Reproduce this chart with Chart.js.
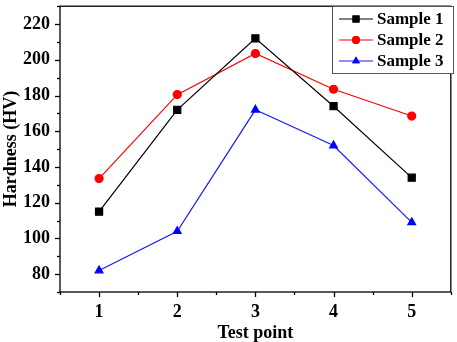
<!DOCTYPE html>
<html><head><meta charset="utf-8">
<script src="https://cdn.jsdelivr.net/npm/chart.js@4/dist/chart.umd.min.js"></script>
<style>html,body{margin:0;padding:0;background:#fff}#wrap{width:457px;height:342px}</style>
</head><body><div id="wrap"><canvas id="c" width="457" height="342"></canvas></div>
<script>
const testPoints = [1, 2, 3, 4, 5];
const sample1 = [115, 172, 212, 174, 134];
const sample2 = [133.5, 180.5, 203.5, 183.5, 168.5];
const sample3 = [82, 104, 172, 152, 109];
const yTickLabels = [80, 100, 120, 140, 160, 180, 200, 220];
const seriesNames = ['Sample 1', 'Sample 2', 'Sample 3'];

const FONT = "'Liberation Serif','Times New Roman',serif";
const toXY = arr => arr.map((v, i) => ({x: testPoints[i], y: v}));

const framePlugin = {
  id: 'frame',
  afterDraw(chart) {
    const {ctx, chartArea: a, scales} = chart;
    ctx.save();
    ctx.strokeStyle = '#000';
    ctx.lineWidth = 1.3;
    ctx.strokeRect(a.left, a.top, a.right - a.left, a.bottom - a.top);
    const xs = scales.x;
    for (let v = 0.5; v <= 5.5; v += 0.5) {
      const px = Math.round(xs.getPixelForValue(v)) + 0.5;
      const major = Number.isInteger(v);
      ctx.beginPath(); ctx.moveTo(px, a.bottom); ctx.lineTo(px, a.bottom + (major ? 5 : 3)); ctx.stroke();
    }
    const ys = scales.y;
    for (let v = 70; v <= 230; v += 10) {
      const py = Math.round(ys.getPixelForValue(v)) + 0.5;
      const major = yTickLabels.includes(v);
      ctx.beginPath(); ctx.moveTo(a.left, py); ctx.lineTo(a.left - (major ? 5 : 3), py); ctx.stroke();
    }
    // legend
    const lx = 332, ly = 6, lw = 121, lh = 67;
    ctx.fillStyle = '#fff';
    ctx.fillRect(lx, ly, lw, lh);
    ctx.strokeStyle = '#555';
    ctx.lineWidth = 1;
    ctx.strokeRect(lx + 0.5, ly + 0.5, lw, lh);
    const rows = [19, 40, 61];
    chart.data.datasets.forEach((ds, i) => {
      const y = rows[i];
      ctx.strokeStyle = ds.borderColor;
      ctx.lineWidth = 1;
      ctx.beginPath(); ctx.moveTo(339, y); ctx.lineTo(373, y); ctx.stroke();
      ctx.fillStyle = ds.pointBackgroundColor;
      Chart.helpers.drawPoint(ctx, {pointStyle: ds.pointStyle, radius: ds.pointRadius, rotation: 0, borderWidth: 0}, 356, y);
      ctx.fill();
      ctx.fillStyle = '#000';
      ctx.font = "bold 17px " + FONT;
      ctx.textBaseline = 'middle';
      ctx.textAlign = 'left';
      ctx.fillText(ds.label, 377, y + 1);
    });
    ctx.restore();
  }
};

const noPad = s => { s.paddingTop = 0; s.paddingBottom = 0; s.paddingLeft = 0; s.paddingRight = 0; };

new Chart(document.getElementById('c'), {
  type: 'line',
  data: {
    datasets: [
      {label: seriesNames[0], data: toXY(sample1), borderColor: '#000', pointBackgroundColor: '#000', pointBorderColor: '#000', pointStyle: 'rect', pointRadius: 5, borderWidth: 1.2},
      {label: seriesNames[1], data: toXY(sample2), borderColor: '#ff0000', pointBackgroundColor: '#ff0000', pointBorderColor: '#ff0000', pointStyle: 'circle', pointRadius: 4, borderWidth: 1.2},
      {label: seriesNames[2], data: toXY(sample3), borderColor: '#1a1aff', pointBackgroundColor: '#0000ff', pointBorderColor: '#0000ff', pointStyle: 'triangle', pointRadius: 4.5, borderWidth: 1.2}
    ]
  },
  options: {
    responsive: false,
    animation: false,
    layout: {padding: {top: 3, right: 2, left: 0, bottom: 0}},
    plugins: {legend: {display: false}, tooltip: {enabled: false}},
    scales: {
      x: {
        type: 'linear', min: 0.5, max: 5.5,
        grid: {display: false, drawTicks: false}, border: {display: false},
        afterFit(s) { s.height = 50; noPad(s); },
        afterBuildTicks(s) { s.ticks = testPoints.map(v => ({value: v})); },
        ticks: {padding: 10, color: '#000', font: {family: FONT, size: 18, weight: 'bold'}, callback: v => String(v), maxRotation: 0, autoSkip: false},
        title: {display: true, text: 'Test point', color: '#000', padding: 0, font: {family: FONT, size: 18, weight: 'bold', lineHeight: 1.0}}
      },
      y: {
        min: 70, max: 230,
        grid: {display: false, drawTicks: false}, border: {display: false},
        afterFit(s) { s.width = 60; noPad(s); },
        afterBuildTicks(s) { s.ticks = yTickLabels.map(v => ({value: v})); },
        ticks: {padding: 10, color: '#000', font: {family: FONT, size: 18, weight: 'bold'}, autoSkip: false},
        title: {display: true, text: 'Hardness (HV)', color: '#000', padding: {top: 1, bottom: 0}, font: {family: FONT, size: 18, weight: 'bold'}}
      }
    }
  },
  plugins: [framePlugin]
});
</script></body></html>
